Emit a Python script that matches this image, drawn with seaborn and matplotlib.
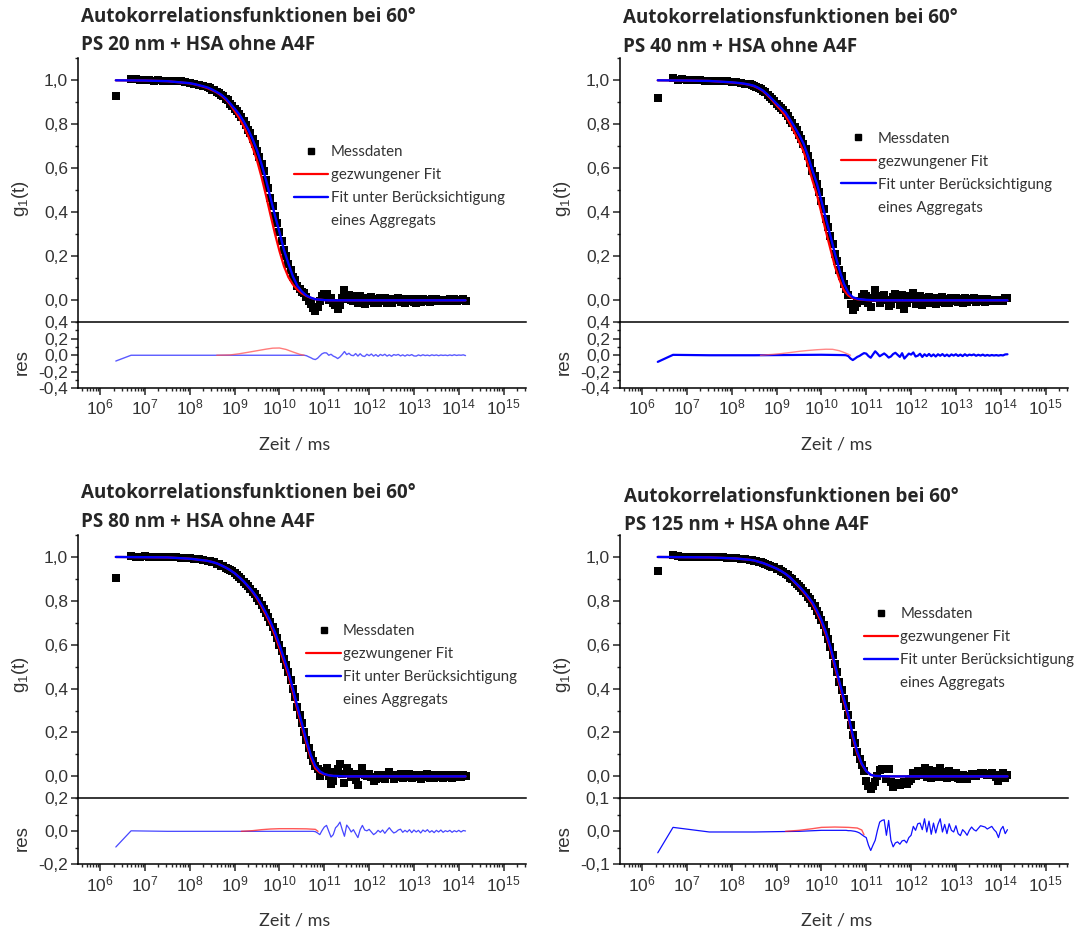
import numpy as np
import pandas as pd
import seaborn as sns
import matplotlib
matplotlib.use('Agg')
import matplotlib.pyplot as plt
from matplotlib.lines import Line2D
from matplotlib.ticker import MultipleLocator, FuncFormatter, LogLocator, NullFormatter

# lag time grids, log10 of Zeit / ms
t_head = [6.35, 6.69, 6.8, 6.9, 7.0, 7.1, 7.2, 7.3, 7.4, 7.5,
          7.6, 7.7, 7.8, 7.9, 8.0, 8.1, 8.2, 8.3, 8.4]
t_decay = [8.45, 8.50, 8.55, 8.60, 8.65, 8.70, 8.75, 8.80, 8.85, 8.90,
           8.95, 9.00, 9.05, 9.10, 9.15, 9.20, 9.25, 9.30, 9.35, 9.40,
           9.45, 9.50, 9.55, 9.60, 9.65, 9.70, 9.75, 9.80, 9.85, 9.90,
           9.95, 10.00, 10.05, 10.10, 10.15, 10.20, 10.25, 10.30, 10.35, 10.40,
           10.45, 10.50, 10.55, 10.60, 10.65, 10.70, 10.75, 10.80, 10.85, 10.90,
           10.95]
t_tail = [11.00, 11.05, 11.10, 11.15, 11.20, 11.25, 11.30, 11.35, 11.40, 11.45,
          11.50, 11.55, 11.60, 11.65, 11.70, 11.75, 11.80, 11.85, 11.90, 11.95,
          12.00, 12.05, 12.10, 12.15, 12.20, 12.25, 12.30, 12.35, 12.40, 12.45,
          12.50, 12.55, 12.60, 12.65, 12.70, 12.75, 12.80, 12.85, 12.90, 12.95,
          13.00, 13.05, 13.10, 13.15, 13.20, 13.25, 13.30, 13.35, 13.40, 13.45,
          13.50, 13.55, 13.60, 13.65, 13.70, 13.75, 13.80, 13.85, 13.90, 13.95,
          14.00, 14.05, 14.10, 14.15]
t_res_head = [6.35, 6.69, 7.5, 8.5, 9.5, 10.0, 10.5]
t_res_end = [10.55, 10.60, 10.65, 10.70, 10.75, 10.80, 10.85, 10.90, 10.95]
t_fit = [6.35, 7.0, 7.5,
         8.0, 8.1, 8.2, 8.3, 8.4, 8.5, 8.6, 8.7, 8.8, 8.9,
         9.0, 9.1, 9.2, 9.3, 9.4, 9.5, 9.6, 9.7, 9.8, 9.9,
         10.0, 10.1, 10.2, 10.3, 10.4, 10.5, 10.6, 10.7, 10.8, 10.9,
         11.0, 11.1, 11.2,
         11.5, 12.5, 14.15]

titles = ['PS 20 nm + HSA ohne A4F', 'PS 40 nm + HSA ohne A4F',
          'PS 80 nm + HSA ohne A4F', 'PS 125 nm + HSA ohne A4F']

# ---- PS 20 nm ----
data_head_1 = [0.93, 1.008, 1.004, 1.002, 1.003, 1.0, 0.999, 1.001, 0.998, 0.999,
               0.997, 0.998, 0.995, 0.993, 0.990, 0.985, 0.980, 0.975, 0.969]
data_decay_1 = [0.964, 0.958, 0.954, 0.946, 0.942, 0.934, 0.929, 0.917, 0.909, 0.894,
                0.884, 0.870, 0.862, 0.845, 0.832, 0.813, 0.798, 0.776, 0.760, 0.732,
                0.710, 0.681, 0.652, 0.618, 0.587, 0.546, 0.510, 0.465, 0.427, 0.384,
                0.350, 0.309, 0.269, 0.228, 0.200, 0.166, 0.139, 0.108, 0.091, 0.066,
                0.053, 0.040, 0.033, 0.017, -0.001, -0.018, -0.037, -0.047, -0.032, -0.005,
                0.020]
tail_1 = [0.030, 0.028, 0.0, 0.012, -0.010, -0.022, -0.040, -0.020, 0.010, 0.045,
          0.008, 0.024, 0.0, -0.005, 0.020, -0.010, 0.018, -0.008, -0.015, 0.012,
          -0.005, 0.015, -0.010, 0.008, -0.014, 0.010, -0.004, 0.012, -0.010, 0.006,
          -0.012, 0.008, 0.0, 0.010, -0.008, 0.005, -0.010, 0.006, -0.004, 0.008,
          -0.008, -0.010, 0.004, -0.006, 0.006, -0.004, 0.002, -0.006, 0.005, -0.003,
          0.004, -0.005, 0.003, -0.002, 0.002, -0.004, 0.004, -0.003, 0.006, -0.002,
          0.003, 0.0, 0.005, -0.004]
res_head_1 = [-0.07, 0.0, 0.0, 0.0, 0.0, 0.0, 0.0]
res_end_1 = [0.0, -0.005, -0.018, -0.030, -0.045, -0.052, -0.036, -0.008, 0.018]
fit_blue_1 = [1.0, 0.999, 0.996,
              0.987, 0.983, 0.978, 0.973, 0.967, 0.958, 0.947, 0.935, 0.918, 0.895,
              0.871, 0.846, 0.814, 0.777, 0.733, 0.682, 0.619, 0.547, 0.466, 0.385,
              0.310, 0.229, 0.167, 0.109, 0.065, 0.040, 0.022, 0.012, 0.005, 0.003,
              0.001, 0.0, 0.0,
              0.0, 0.0, 0.0]
fit_red_1 = [1.0, 0.999, 0.996,
             0.986, 0.982, 0.977, 0.971, 0.964, 0.955, 0.945, 0.931, 0.913, 0.890,
             0.860, 0.830, 0.792, 0.748, 0.696, 0.635, 0.560, 0.476, 0.388, 0.302,
             0.224, 0.155, 0.105, 0.072, 0.048, 0.032, 0.020, 0.011, 0.005, 0.003,
             0.001, 0.0, 0.0,
             0.0, 0.0, 0.0]
t_res_red_1 = [8.6, 8.9, 9.1, 9.3, 9.5, 9.7, 9.85, 10.0, 10.15, 10.3, 10.45, 10.55]
res_red_1 = [0.0, 0.004, 0.018, 0.036, 0.055, 0.074, 0.086, 0.088, 0.070, 0.040, 0.012, 0.0]

# ---- PS 40 nm ----
data_head_2 = [0.92, 1.01, 1.003, 1.004, 1.002, 1.0, 1.003, 1.001, 0.999, 0.998,
               0.999, 0.997, 0.998, 0.996, 0.993, 0.991, 0.988, 0.985, 0.981]
data_decay_2 = [0.979, 0.974, 0.971, 0.964, 0.960, 0.952, 0.945, 0.934, 0.926, 0.914,
                0.906, 0.893, 0.885, 0.873, 0.865, 0.852, 0.839, 0.821, 0.806, 0.787,
                0.772, 0.752, 0.735, 0.712, 0.688, 0.655, 0.625, 0.589, 0.563, 0.529,
                0.494, 0.451, 0.413, 0.369, 0.334, 0.293, 0.255, 0.212, 0.178, 0.139,
                0.109, 0.075, 0.053, 0.024, -0.018, -0.044, -0.030, -0.013, -0.003, 0.014,
                0.029]
tail_2 = [0.020, -0.010, -0.030, 0.010, 0.048, 0.020, -0.012, 0.005, 0.022, 0.0,
          -0.028, -0.015, 0.015, 0.030, 0.005, -0.020, 0.025, -0.040, -0.010, 0.020,
          0.008, 0.034, -0.015, -0.005, 0.018, -0.020, 0.012, -0.010, 0.016, -0.012,
          0.010, -0.015, 0.012, -0.006, 0.014, -0.010, 0.008, -0.012, 0.010, -0.004,
          0.012, -0.008, 0.008, -0.010, 0.012, -0.006, 0.008, 0.0, 0.010, -0.006,
          0.006, -0.004, 0.008, -0.006, 0.004, -0.005, 0.003, -0.003, 0.002, -0.004,
          0.002, -0.002, 0.010, 0.012]
res_head_2 = [-0.08, 0.005, 0.0, 0.0, 0.004, 0.006, 0.002]
res_end_2 = [0.0, -0.010, -0.040, -0.058, -0.040, -0.020, -0.008, 0.010, 0.026]
fit_blue_2 = [1.0, 0.999, 0.997,
              0.991, 0.989, 0.987, 0.984, 0.980, 0.975, 0.965, 0.953, 0.935, 0.915,
              0.894, 0.874, 0.853, 0.822, 0.788, 0.753, 0.713, 0.656, 0.590, 0.530,
              0.452, 0.370, 0.294, 0.213, 0.140, 0.076, 0.034, 0.014, 0.007, 0.004,
              0.002, 0.001, 0.0,
              0.0, 0.0, 0.0]
fit_red_2 = [1.0, 0.999, 0.997,
             0.990, 0.988, 0.986, 0.983, 0.979, 0.973, 0.963, 0.950, 0.931, 0.910,
             0.886, 0.864, 0.838, 0.803, 0.763, 0.722, 0.678, 0.616, 0.545, 0.480,
             0.397, 0.313, 0.234, 0.155, 0.095, 0.046, 0.022, 0.010, 0.005, 0.003,
             0.001, 0.0, 0.0,
             0.0, 0.0, 0.0]
t_res_red_2 = [8.64, 8.9, 9.1, 9.3, 9.5, 9.7, 9.9, 10.1, 10.25, 10.4, 10.5, 10.6, 10.65]
res_red_2 = [0.0, 0.010, 0.020, 0.033, 0.047, 0.058, 0.067, 0.073, 0.072, 0.055, 0.035, 0.012, 0.0]

# ---- PS 80 nm ----
data_head_3 = [0.905, 1.006, 1.002, 1.0, 1.003, 1.001, 0.999, 1.0, 1.0, 0.998,
               1.0, 0.999, 0.997, 0.996, 0.994, 0.993, 0.990, 0.987, 0.983]
data_decay_3 = [0.981, 0.976, 0.975, 0.970, 0.968, 0.961, 0.958, 0.951, 0.947, 0.939,
                0.934, 0.925, 0.918, 0.907, 0.900, 0.888, 0.879, 0.866, 0.856, 0.842,
                0.831, 0.815, 0.801, 0.782, 0.765, 0.744, 0.726, 0.704, 0.683, 0.656,
                0.630, 0.599, 0.570, 0.537, 0.508, 0.475, 0.439, 0.399, 0.361, 0.318,
                0.281, 0.241, 0.204, 0.164, 0.131, 0.096, 0.071, 0.047, 0.032, 0.003,
                0.021]
tail_3 = [0.026, 0.036, 0.0, -0.035, -0.020, 0.021, 0.035, 0.056, 0.010, -0.030,
          0.038, 0.020, -0.004, 0.010, -0.015, -0.038, 0.010, 0.036, 0.008, 0.003,
          0.012, -0.004, -0.020, -0.010, 0.006, -0.006, 0.008, -0.012, 0.006, 0.022,
          0.004, -0.010, -0.004, 0.008, 0.013, -0.006, 0.006, -0.004, 0.010, -0.008,
          0.008, -0.004, 0.006, -0.010, 0.008, -0.002, 0.010, -0.006, 0.004, -0.008,
          0.006, -0.004, 0.008, -0.006, 0.004, -0.002, 0.006, -0.006, 0.004, -0.003,
          0.006, -0.004, 0.005, 0.002]
res_head_3 = [-0.095, 0.003, 0.0, 0.0, 0.0, 0.0, 0.0]
res_end_3 = [0.0, 0.0, 0.0, 0.0, 0.0, -0.002, -0.010, -0.020, 0.005]
fit_blue_3 = [1.0, 0.999, 0.998,
              0.992, 0.990, 0.987, 0.985, 0.982, 0.977, 0.971, 0.962, 0.952, 0.940,
              0.926, 0.908, 0.889, 0.867, 0.843, 0.816, 0.783, 0.745, 0.705, 0.657,
              0.600, 0.538, 0.476, 0.400, 0.319, 0.242, 0.165, 0.097, 0.048, 0.023,
              0.011, 0.005, 0.002,
              0.0, 0.0, 0.0]
fit_red_3 = [1.0, 0.999, 0.998,
             0.992, 0.990, 0.987, 0.985, 0.982, 0.977, 0.971, 0.962, 0.952, 0.940,
             0.926, 0.908, 0.888, 0.865, 0.840, 0.810, 0.775, 0.735, 0.693, 0.643,
             0.584, 0.522, 0.460, 0.384, 0.303, 0.227, 0.150, 0.084, 0.036, 0.017,
             0.009, 0.005, 0.002,
             0.0, 0.0, 0.0]
t_res_red_3 = [9.15, 9.4, 9.6, 9.8, 10.0, 10.3, 10.6, 10.8, 10.86]
res_red_3 = [0.0, 0.004, 0.010, 0.014, 0.016, 0.016, 0.015, 0.012, 0.0]

# ---- PS 125 nm ----
data_head_4 = [0.935, 1.01, 1.004, 1.002, 1.001, 1.0, 1.002, 0.999, 1.0, 1.0,
               0.999, 0.998, 0.999, 0.997, 0.996, 0.994, 0.992, 0.990, 0.988]
data_decay_4 = [0.987, 0.983, 0.982, 0.977, 0.976, 0.971, 0.969, 0.963, 0.961, 0.955,
                0.953, 0.946, 0.943, 0.935, 0.931, 0.922, 0.916, 0.906, 0.898, 0.886,
                0.878, 0.866, 0.857, 0.844, 0.834, 0.819, 0.808, 0.792, 0.776, 0.755,
                0.736, 0.712, 0.688, 0.657, 0.628, 0.591, 0.555, 0.511, 0.474, 0.431,
                0.395, 0.354, 0.320, 0.279, 0.236, 0.187, 0.151, 0.112, 0.080, 0.050,
                0.025]
tail_4 = [-0.019, -0.042, -0.058, -0.042, -0.027, 0.003, 0.028, 0.033, 0.035, -0.012,
          0.033, -0.027, -0.047, -0.035, -0.032, -0.039, -0.029, -0.027, -0.035, -0.019,
          -0.012, 0.015, 0.003, 0.023, 0.025, 0.005, 0.038, -0.002, 0.031, -0.009,
          0.025, -0.005, 0.021, 0.038, -0.002, 0.021, -0.007, 0.023, 0.003, -0.002,
          0.017, -0.007, -0.013, 0.005, -0.002, -0.012, 0.003, 0.013, 0.005, 0.001,
          0.009, 0.017, 0.015, 0.013, 0.007, 0.011, 0.015, 0.005, -0.002, -0.019,
          0.005, 0.015, -0.007, 0.005]
res_head_4 = [-0.065, 0.012, -0.002, -0.002, 0.0, 0.003, 0.003]
res_end_4 = [0.003, 0.002, 0.002, 0.001, 0.0, -0.002, -0.005, -0.010, -0.015]
fit_blue_4 = [1.0, 0.999, 0.998,
              0.994, 0.993, 0.991, 0.989, 0.987, 0.984, 0.978, 0.972, 0.964, 0.956,
              0.947, 0.936, 0.923, 0.907, 0.887, 0.867, 0.845, 0.820, 0.793, 0.756,
              0.713, 0.658, 0.592, 0.512, 0.432, 0.355, 0.280, 0.188, 0.113, 0.058,
              0.024, 0.007, 0.002,
              0.0, 0.0, 0.0]
fit_red_4 = [1.0, 0.999, 0.998,
             0.994, 0.993, 0.991, 0.989, 0.987, 0.984, 0.978, 0.972, 0.964, 0.956,
             0.947, 0.936, 0.923, 0.906, 0.885, 0.864, 0.840, 0.814, 0.785, 0.746,
             0.701, 0.646, 0.580, 0.499, 0.419, 0.342, 0.268, 0.177, 0.103, 0.054,
             0.024, 0.007, 0.002,
             0.0, 0.0, 0.0]
t_res_red_4 = [9.2, 9.5, 9.8, 10.0, 10.3, 10.6, 10.8, 10.9, 10.95]
res_red_4 = [0.0, 0.003, 0.008, 0.012, 0.013, 0.012, 0.010, 0.004, -0.010]

panels = [
    dict(data=data_head_1 + data_decay_1 + tail_1, res=res_head_1 + res_end_1 + tail_1,
         blue=fit_blue_1, red=fit_red_1, t_rred=t_res_red_1, rred=res_red_1,
         res_lim=0.4, res_major=0.2, res_minor=0.1,
         res_blue='#5a5aff', res_blue_lw=1.0, res_red='#ff5050'),
    dict(data=data_head_2 + data_decay_2 + tail_2, res=res_head_2 + res_end_2 + tail_2,
         blue=fit_blue_2, red=fit_red_2, t_rred=t_res_red_2, rred=res_red_2,
         res_lim=0.4, res_major=0.2, res_minor=0.1,
         res_blue='#0000ff', res_blue_lw=1.6, res_red='#ff6060'),
    dict(data=data_head_3 + data_decay_3 + tail_3, res=res_head_3 + res_end_3 + tail_3,
         blue=fit_blue_3, red=fit_red_3, t_rred=t_res_red_3, rred=res_red_3,
         res_lim=0.2, res_major=0.2, res_minor=0.1,
         res_blue='#4646ff', res_blue_lw=0.9, res_red='#ff2020'),
    dict(data=data_head_4 + data_decay_4 + tail_4, res=res_head_4 + res_end_4 + tail_4,
         blue=fit_blue_4, red=fit_red_4, t_rred=t_res_red_4, rred=res_red_4,
         res_lim=0.1, res_major=0.1, res_minor=0.05,
         res_blue='#1010ff', res_blue_lw=0.9, res_red='#ff2020'),
]

# figure-fraction layout of the four panels
ax_left = [0.0713, 0.5685, 0.0713, 0.5685]
main_bottom = [0.6534, 0.6534, 0.1416, 0.1416]
main_height = [0.2839, 0.2839, 0.2831, 0.2831]
res_bottom = [0.5825, 0.5825, 0.0706, 0.0706]
title_x = [0.0745, 0.5720, 0.0745, 0.5727]
title_y = [(0.982, 0.9516), (0.9806, 0.9495), (0.4699, 0.4387), (0.4656, 0.4355)]
legend_anchor = [(0.482, 0.672), (0.494, 0.722), (0.510, 0.662), (0.544, 0.725)]

sns.set_style('ticks')
plt.rcParams['font.family'] = ['Liberation Sans', 'DejaVu Sans']
plt.rcParams['mathtext.fontset'] = 'custom'
plt.rcParams['mathtext.rm'] = 'Liberation Sans'
plt.rcParams['mathtext.it'] = 'Liberation Sans:italic'

label_grey = '#333333'
x_lo, x_hi = 10 ** 5.5, 10 ** 15.5


def comma(v, pos):
    s = f'{v:.1f}'.replace('.', ',')
    return '0,0' if s == '-0,0' else s


def decade(v, pos):
    if v < x_lo or v > x_hi:
        return ''
    return r'$\mathregular{10^{%d}}$' % int(round(np.log10(v)))


fig = plt.figure(figsize=(10.9, 9.3), dpi=100)

for i, p in enumerate(panels):
    ax = fig.add_axes([ax_left[i], main_bottom[i], 0.4113, main_height[i]])
    axr = fig.add_axes([ax_left[i], res_bottom[i], 0.4113, 0.071], sharex=ax)

    df = pd.DataFrame({'t': 10 ** np.array(t_head + t_decay + t_tail), 'g': p['data']})
    fits = pd.DataFrame({'t': 10 ** np.array(t_fit), 'blue': p['blue'], 'red': p['red']})
    res = pd.DataFrame({'t': 10 ** np.array(t_res_head + t_res_end + t_tail), 'r': p['res']})
    rred = pd.DataFrame({'t': 10 ** np.array(p['t_rred']), 'r': p['rred']})

    ax.set_xscale('log')
    sns.scatterplot(data=df, x='t', y='g', ax=ax, marker='s', color='black',
                    s=28, linewidth=0, legend=False, zorder=2)
    sns.lineplot(data=fits, x='t', y='red', ax=ax, color='#ff0000', lw=1.6,
                 estimator=None, legend=False, zorder=3)
    sns.lineplot(data=fits, x='t', y='blue', ax=ax, color='#0000ff', lw=1.7,
                 estimator=None, legend=False, zorder=4)

    sns.lineplot(data=res, x='t', y='r', ax=axr, color=p['res_blue'], lw=p['res_blue_lw'],
                 estimator=None, legend=False, zorder=3)
    sns.lineplot(data=rred, x='t', y='r', ax=axr, color=p['res_red'], lw=1.0, alpha=0.75,
                 estimator=None, legend=False, zorder=4)

    ax.set_xlim(x_lo, x_hi)
    ax.set_ylim(-0.1, 1.1)
    axr.set_ylim(-p['res_lim'], p['res_lim'])

    # main panel: only the left axis line
    for s in ['top', 'right', 'bottom']:
        ax.spines[s].set_visible(False)
    axr.spines['right'].set_visible(False)
    for a in (ax, axr):
        for s in a.spines.values():
            s.set_linewidth(1.1)
            s.set_color('black')

    ax.yaxis.set_major_locator(MultipleLocator(0.2))
    ax.yaxis.set_minor_locator(MultipleLocator(0.1))
    ax.yaxis.set_major_formatter(FuncFormatter(comma))
    ax.tick_params(axis='x', which='both', bottom=False, labelbottom=False)
    axr.yaxis.set_major_locator(MultipleLocator(p['res_major']))
    axr.yaxis.set_minor_locator(MultipleLocator(p['res_minor']))
    axr.yaxis.set_major_formatter(FuncFormatter(comma))
    axr.xaxis.set_major_locator(LogLocator(base=10, numticks=20))
    axr.xaxis.set_minor_locator(LogLocator(base=10, subs=np.arange(2, 10), numticks=20))
    axr.xaxis.set_major_formatter(FuncFormatter(decade))
    axr.xaxis.set_minor_formatter(NullFormatter())
    axr.tick_params(axis='x', which='both', top=False)

    for a in (ax, axr):
        a.tick_params(which='major', direction='out', length=5, width=1.1,
                      labelsize=12.5, labelcolor=label_grey, pad=2)
        a.tick_params(which='minor', direction='out', length=2.5, width=1.0)

    ax.set_xlabel(None)
    ax.set_ylabel(r'g$_1$(t)', fontsize=13.5, color=label_grey)
    ax.yaxis.set_label_coords(-0.105, 0.47)
    axr.set_ylabel('res', fontsize=13.5, color=label_grey)
    axr.yaxis.set_label_coords(-0.105, 0.4)
    axr.set_xlabel('Zeit / ms', fontsize=13, color=label_grey, family=['Lato', 'DejaVu Sans'])
    axr.xaxis.set_label_coords(0.483, -0.73)

    handles = [Line2D([], [], marker='s', color='black', ls='none', markersize=4.2),
               Line2D([], [], color='#ff0000', lw=1.6),
               Line2D([], [], color='#0000ff', lw=1.7),
               Line2D([], [], ls='none')]
    labels = ['Messdaten', 'gezwungener Fit', 'Fit unter Berücksichtigung', 'eines Aggregats']
    leg = ax.legend(handles, labels, loc='upper left', bbox_to_anchor=legend_anchor[i],
                    frameon=False, handlelength=2.3, handletextpad=0.15, labelspacing=0.6,
                    borderpad=0, borderaxespad=0,
                    prop={'family': ['Lato', 'DejaVu Sans'], 'size': 10.8})
    for txt in leg.get_texts():
        txt.set_color(label_grey)

    fig.text(title_x[i], title_y[i][0], 'Autokorrelationsfunktionen bei 60°',
             fontsize=13.6, fontweight='bold', family=['Open Sans', 'DejaVu Sans'], va='center')
    fig.text(title_x[i], title_y[i][1], titles[i],
             fontsize=13.6, fontweight='bold', family=['Open Sans', 'DejaVu Sans'], va='center')

fig.savefig('out.png', dpi=100)
